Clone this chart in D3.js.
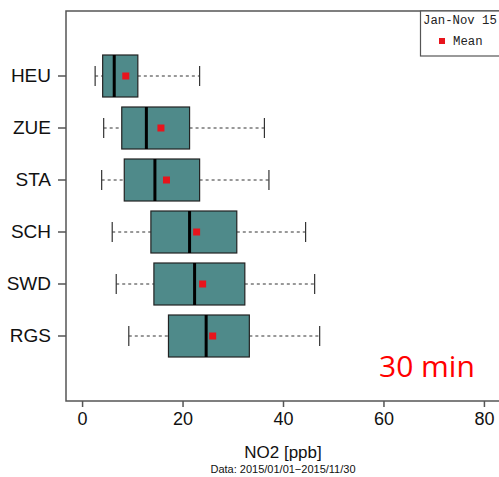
<!DOCTYPE html>
<html>
<head>
<meta charset="utf-8">
<script src="https://cdn.jsdelivr.net/npm/d3@7"></script>
<style>
  body { margin: 0; background: #fff; }
  svg { display: block; }
</style>
</head>
<body>
<svg id="chart" width="499" height="477"></svg>
<script>
// stations, top to bottom
const stations = ["HEU", "ZUE", "STA", "SCH", "SWD", "RGS"];
// box stats per station, NO2 [ppb]
const whiskerLow = [2.6, 4.3, 3.9, 6.0, 6.8, 9.3];
const q1 = [4.1, 7.9, 8.4, 13.7, 14.3, 17.2];
const median = [6.4, 12.8, 14.5, 21.4, 22.4, 24.7];
const q3 = [11.1, 21.4, 23.4, 30.8, 32.4, 33.3];
const whiskerHigh = [23.4, 36.3, 37.2, 44.5, 46.3, 47.3];
const means = [8.7, 15.7, 16.8, 22.8, 24.0, 26.0];
const xTicks = [0, 20, 40, 60, 80];

const svg = d3.select("#chart");
const plotLeft = 66, plotRight = 500, plotTop = 11, plotBottom = 401;

const x = d3.scaleLinear().domain([-3.2, 83.2]).range([plotLeft, plotRight]);
const y = d3.scaleBand().domain(stations).range([50, 362]).paddingInner(0.2).paddingOuter(0.1);

const boxH = 42;
const capH = 20;
const fillCol = "#4f8a8a";

const rows = stations.map((s, i) => ({
  s, lo: whiskerLow[i], q1: q1[i], med: median[i], q3: q3[i], hi: whiskerHigh[i], mean: means[i]
}));

const g = svg.append("g");
const row = g.selectAll("g.row").data(rows).join("g")
  .attr("transform", d => `translate(0,${y(d.s) + y.bandwidth() / 2})`);

// whiskers
row.append("line").attr("x1", d => x(d.lo)).attr("x2", d => x(d.q1))
  .attr("stroke", "#333").attr("stroke-dasharray", "3,3").attr("stroke-width", 1);
row.append("line").attr("x1", d => x(d.q3)).attr("x2", d => x(d.hi))
  .attr("stroke", "#333").attr("stroke-dasharray", "3,3").attr("stroke-width", 1);
row.append("line").attr("x1", d => x(d.lo)).attr("x2", d => x(d.lo))
  .attr("y1", -capH / 2).attr("y2", capH / 2).attr("stroke", "#333").attr("stroke-width", 1.2);
row.append("line").attr("x1", d => x(d.hi)).attr("x2", d => x(d.hi))
  .attr("y1", -capH / 2).attr("y2", capH / 2).attr("stroke", "#333").attr("stroke-width", 1.2);

// boxes
row.append("rect")
  .attr("x", d => x(d.q1)).attr("width", d => x(d.q3) - x(d.q1))
  .attr("y", -boxH / 2).attr("height", boxH)
  .attr("fill", fillCol).attr("stroke", "#222").attr("stroke-width", 1.2);
row.append("line").attr("x1", d => x(d.med)).attr("x2", d => x(d.med))
  .attr("y1", -boxH / 2).attr("y2", boxH / 2).attr("stroke", "#000").attr("stroke-width", 3);
row.append("rect")
  .attr("x", d => x(d.mean) - 3.5).attr("y", -3.5)
  .attr("width", 7).attr("height", 7).attr("fill", "#e8141c");

// frame
svg.append("rect").attr("x", plotLeft).attr("y", plotTop)
  .attr("width", plotRight - plotLeft).attr("height", plotBottom - plotTop)
  .attr("fill", "none").attr("stroke", "#555").attr("stroke-width", 1.5);

// x axis
const xa = svg.append("g").attr("transform", `translate(0,${plotBottom})`)
  .call(d3.axisBottom(x).tickValues(xTicks).tickSize(6).tickPadding(5).tickSizeOuter(0));
xa.select(".domain").remove();
xa.selectAll("line").attr("stroke", "#555").attr("stroke-width", 1.5);
xa.selectAll("text").attr("font-family", "Liberation Sans, Arial, sans-serif")
  .attr("font-size", 18).attr("fill", "#111");

// y axis
const ya = svg.append("g").attr("transform", `translate(${plotLeft},0)`)
  .call(d3.axisLeft(y).tickSize(8).tickPadding(7).tickSizeOuter(0));
ya.select(".domain").remove();
ya.selectAll("line").attr("stroke", "#555").attr("stroke-width", 1.5);
ya.selectAll("text").attr("font-family", "Liberation Sans, Arial, sans-serif")
  .attr("font-size", 19).attr("fill", "#111");

// titles
svg.append("text").attr("x", 283).attr("y", 458).attr("text-anchor", "middle")
  .attr("font-family", "Liberation Sans, Arial, sans-serif").attr("font-size", 17).attr("fill", "#111")
  .text("NO2 [ppb]");
svg.append("text").attr("x", 283).attr("y", 473).attr("text-anchor", "middle")
  .attr("font-family", "Liberation Sans, Arial, sans-serif").attr("font-size", 11).attr("fill", "#111")
  .text("Data: 2015/01/01\u22122015/11/30");

// legend
svg.append("rect").attr("x", 420.5).attr("y", plotTop).attr("width", 90).attr("height", 45)
  .attr("fill", "#fff").attr("stroke", "#555").attr("stroke-width", 1.2);
svg.append("text").attr("x", 423).attr("y", 24)
  .attr("font-family", "Liberation Mono, Courier New, monospace").attr("font-size", 12.3).attr("fill", "#222")
  .text("Jan-Nov 15");
svg.append("rect").attr("x", 439).attr("y", 38).attr("width", 6).attr("height", 6).attr("fill", "#e8141c");
svg.append("text").attr("x", 453).attr("y", 45)
  .attr("font-family", "Liberation Mono, Courier New, monospace").attr("font-size", 12.3).attr("fill", "#222")
  .text("Mean");

// annotation
svg.append("text").attr("x", 379).attr("y", 377)
  .attr("font-family", "Open Sans, Noto Sans, sans-serif").attr("font-size", 30).attr("fill", "#f00")
  .text("30 min");
</script>
</body>
</html>
